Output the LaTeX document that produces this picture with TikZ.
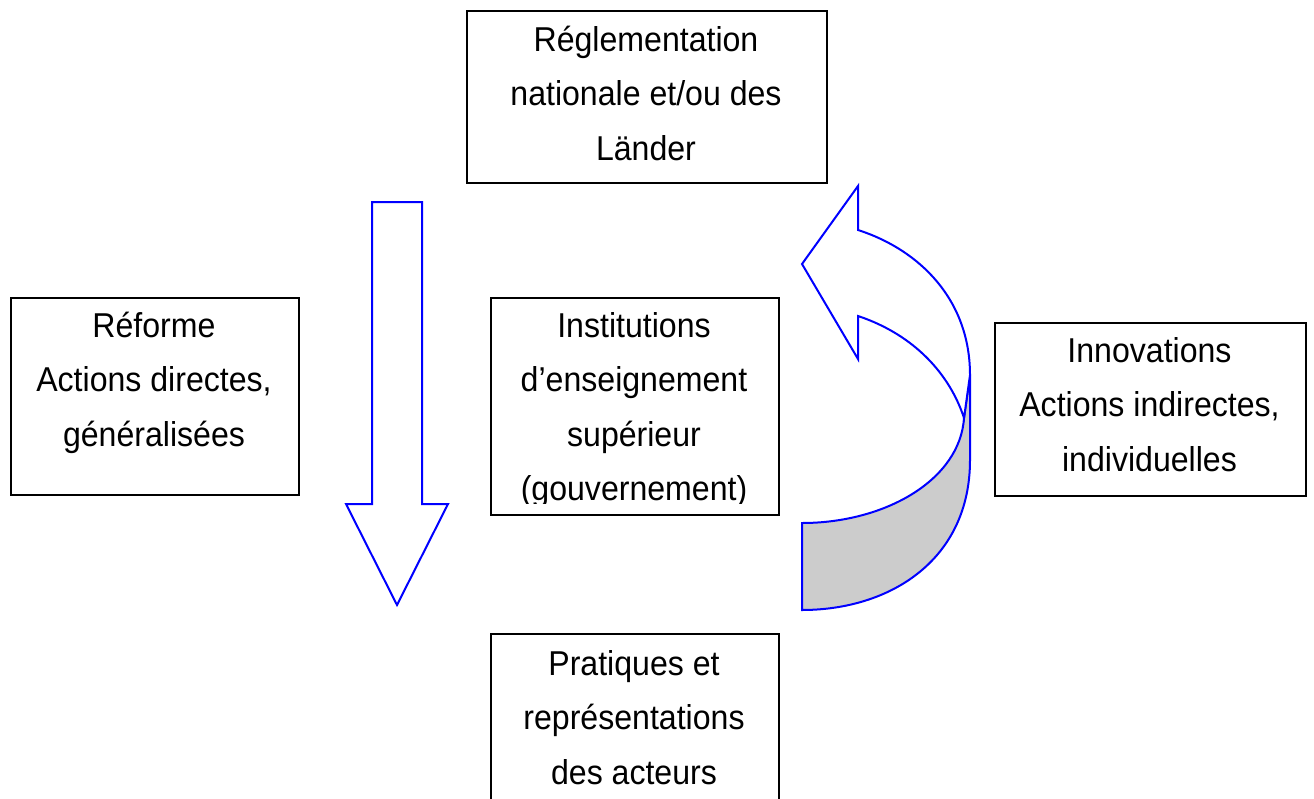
\documentclass[tikz,border=0pt]{standalone}
\usepackage{fontspec}
\setmainfont{Liberation Sans}[FakeStretch=0.93]
\begin{document}
\begin{tikzpicture}[x=1pt,y=-1pt,
  box/.style={draw=black,line width=1.8pt,inner sep=0pt,anchor=north west},
  txt/.style={align=center,inner sep=0pt,anchor=north,font=\fontsize{34.5}{54.5}\selectfont},
  blueline/.style={draw={rgb,255:red,0;green,0;blue,255},line width=2pt,line join=miter}]
\useasboundingbox (0,0) rectangle (1314,798);
\fill[white] (0,0) rectangle (1314,798);
% boxes
\node[box,minimum width=360pt,minimum height=172pt] (top) at (466,10) {};
\node[box,minimum width=288pt,minimum height=197pt] (left) at (10,297) {};
\node[box,minimum width=288pt,minimum height=217pt] (mid) at (490,297) {};
\node[box,minimum width=311pt,minimum height=173pt] (right) at (994,322) {};
\node[box,minimum width=288pt,minimum height=220pt] (bot) at (490,633) {};
% texts
\node[txt] (toptxt) at (646,12.85) {\strut R\'eglementation\\nationale et/ou des\\L\"ander};
\node[txt] (lefttxt) at (154,298.85) {\strut R\'eforme\\Actions directes,\\g\'en\'eralis\'ees};
\begin{scope}
\clip (490,297) rectangle (778,503);
\node[txt] (midtxt) at (634,298.85) {\strut Institutions\\d’enseignement\\sup\'erieur\\(gouvernement)};
\end{scope}
\node[txt] (righttxt) at (1149.5,323.85) {\strut Innovations\\Actions indirectes,\\individuelles};
\node[txt] (bottxt) at (634,636.85) {\strut Pratiques et\\repr\'esentations\\des acteurs};
% down arrow
\draw[blueline] (372,202) -- (422,202) -- (422,504) -- (448,504) -- (397,605) -- (346,504) -- (372,504) -- cycle;
% curved arrow: back (grey) part
\filldraw[blueline,fill={rgb,255:red,204;green,204;blue,204}]
  (964,418) .. controls (960,480) and (885,523) .. (802,523)
  -- (802,610) .. controls (890,610) and (970,560) .. (970,460)
  -- (970,375) -- cycle;
% front (white) part with head
\filldraw[blueline,fill=white]
  (858,230) .. controls (920,250) and (970,300) .. (970,375)
  -- (964,418) .. controls (950,375) and (915,335) .. (858,316)
  -- (858,359) -- (802,264) -- (858,186) -- cycle;
\end{tikzpicture}
\end{document}
